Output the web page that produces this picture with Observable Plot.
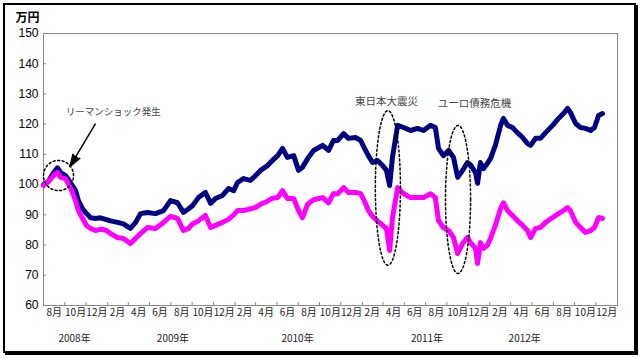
<!DOCTYPE html>
<html><head><meta charset="utf-8">
<script src="https://cdn.jsdelivr.net/npm/d3@7"></script>
<script src="https://cdn.jsdelivr.net/npm/@observablehq/plot@0.6"></script>
<style>
body{margin:0;background:#fff;}
#wrap{position:relative;width:642px;height:359px;overflow:hidden;}
#frame{position:absolute;left:3px;top:3px;width:633px;height:350px;box-sizing:border-box;border:2px solid #000;box-shadow:2px 2px 0 #000;pointer-events:none;z-index:2;}
#wrap svg{position:absolute;left:0;top:0;}
</style></head><body><div id="wrap"><div id="frame"></div></div>
<script>
const dates = ["2008-08-01","2008-08-15","2008-08-30","2008-09-10","2008-09-19","2008-10-03","2008-10-17","2008-11-01","2008-11-09","2008-11-21","2008-12-02","2008-12-14","2008-12-28","2009-01-11","2009-01-26","2009-02-09","2009-03-01","2009-03-18","2009-04-07","2009-04-22","2009-05-06","2009-05-26","2009-06-18","2009-07-11","2009-07-31","2009-08-20","2009-09-06","2009-09-21","2009-10-02","2009-10-19","2009-11-08","2009-11-23","2009-12-07","2009-12-27","2010-01-13","2010-01-28","2010-02-08","2010-02-25","2010-03-17","2010-04-01","2010-04-15","2010-05-05","2010-05-19","2010-06-03","2010-06-17","2010-07-01","2010-07-19","2010-08-02","2010-08-13","2010-08-28","2010-09-14","2010-10-10","2010-10-27","2010-11-10","2010-11-22","2010-12-09","2010-12-23","2011-01-12","2011-01-27","2011-02-07","2011-02-18","2011-03-02","2011-03-16","2011-03-31","2011-04-11","2011-04-20","2011-04-28","2011-05-13","2011-05-30","2011-06-19","2011-07-09","2011-07-26","2011-08-15","2011-08-29","2011-09-07","2011-09-21","2011-10-06","2011-10-20","2011-11-01","2011-11-15","2011-11-29","2011-12-08","2011-12-22","2011-12-28","2012-01-05","2012-01-14","2012-01-25","2012-02-03","2012-02-17","2012-03-03","2012-03-11","2012-03-23","2012-04-06","2012-04-20","2012-05-05","2012-05-19","2012-05-28","2012-06-11","2012-06-25","2012-07-10","2012-07-30","2012-08-16","2012-08-30","2012-09-11","2012-09-19","2012-10-04","2012-10-18","2012-11-01","2012-11-16","2012-11-27","2012-12-09","2012-12-20"];
const navy = [100,101,104,105.5,104,103,100.7,98,94.7,92,90.5,89,88.8,89,88.5,88,87.5,87,85.5,87.5,90.4,90.8,90.4,91.4,94.7,94,90.8,92,93,95.7,97.4,93.8,95.4,96.4,98.7,98,100.7,102,101.4,103,104.7,106.3,108,109.6,112,109,109.6,104.7,105.7,108.6,111.3,113,111.3,114.6,114.6,116.9,115.3,115.6,114.6,112,109.6,107.3,108,106.3,104.7,99.7,109,119.6,118.9,117.9,118.6,117.9,119.6,118.9,112,109.6,111.3,109,102.4,104.7,107.3,106.5,104,100.4,107.3,105.3,107,108.6,113,119.6,121.9,119.6,118.9,117.2,115.6,113.6,113,115.3,115.3,117.2,119.6,121.9,123.5,125.2,123.9,120.2,118.9,118.6,117.9,118.9,122.9,123.5];
const magenta = [99.7,101,103,104,102.4,102,99,94.7,91.4,88.8,86.5,85.5,84.8,85.2,85,83.8,82.5,82.2,80.5,82.2,83.8,85.8,85.5,87.5,89.5,88.8,84.8,85.5,87,88,89.8,85.8,86.5,87.5,88.5,90,91.4,91.4,92,92.5,93.5,94.5,95.5,95.7,98,95.4,95.4,91.4,89,93.5,95,95.7,94,97,97,99,97.4,97.4,97,94.5,91.5,89.5,88,86.5,85.5,78.2,89,99,97,95.7,95.7,95.7,97,95.7,88.1,85.8,84.8,82.5,77.2,80.5,82.5,80.8,78.9,73.9,80.8,78.9,79.9,82.2,86.5,92.1,94,91.4,89.8,88.1,86.5,84.8,82.5,85.5,85.8,87.5,89.1,90.4,91.4,92.4,91.4,87.5,85.8,84.2,84.8,85.8,89.1,88.8];
const yTicks = [60,70,80,90,100,110,120,130,140,150];
const monthLabels = ["8月","10月","12月","2月","4月","6月","8月","10月","12月","2月","4月","6月","8月","10月","12月","2月","4月","6月","8月","10月","12月","2月","4月","6月","8月","10月","12月"];
const yearLabels = ["2008年","2009年","2010年","2011年","2012年"];
const yearDates = ["2008-10-29","2009-08-07","2010-07-30","2011-08-05","2012-05-11"];
const annTexts = ["リーマンショック発生","東日本大震災","ユーロ債務危機"];
const annDates = ["2009-02-17","2011-04-11","2011-12-19"];
const annValues = [123.9,127.5,126.8];
const ellCenters = ["2008-09-13","2011-04-15","2011-11-02"];
const ellValues = [103,98.9,95.1];
const ellHalfDays = [43,36,36];
const ellHalfValues = [5,25.6,24.5];
const arrow = {x1:"2008-12-28", y1:120.2, x2:"2008-10-16", y2:106};

const parse = d3.utcParse("%Y-%m-%d");
const X = dates.map(parse);
const start = parse("2008-08-01"), end = parse("2013-02-01");
const catStarts = d3.utcMonth.range(start, end, 2);
const catMids = catStarts.map(d => d3.utcMonth.offset(d, 1));
const labelMap = new Map(catMids.map((d,i) => [+d, monthLabels[i]]));
const tickDates = catStarts.slice(1);

const ellipses = [];
ellCenters.forEach((c, k) => {
  const t0 = +parse(c);
  for (let i = 0; i <= 72; i++) {
    const t = i / 72 * 2 * Math.PI;
    ellipses.push({k, x: new Date(t0 + Math.cos(t) * ellHalfDays[k] * 864e5), y: ellValues[k] + Math.sin(t) * ellHalfValues[k]});
  }
});
const arr = {x1: parse(arrow.x1), y1: arrow.y1, x2: parse(arrow.x2), y2: arrow.y2};

const chart = Plot.plot({
  width: 642, height: 359,
  marginLeft: 43, marginRight: 25, marginTop: 33, marginBottom: 54,
  style: {fontFamily: "'Noto Sans CJK JP', sans-serif", background: "transparent", color: "#000"},
  x: {type: "utc", domain: [start, end]},
  y: {domain: [60, 150]},
  marks: [
    Plot.frame({stroke: "#888"}),
    Plot.tickY(yTicks, {y: d => d, stroke: "#888", insetRight: 571}),
    Plot.tickX(tickDates, {x: d => d, stroke: "#888", insetTop: 269}),
    Plot.axisY({ticks: yTicks, tickSize: 0, tickPadding: 5, label: null, fontSize: 12, fontFamily: "'Liberation Sans', Arial, sans-serif"}),
    Plot.axisX({ticks: catMids, tickSize: 0, tickPadding: 3, label: null, fontSize: 10, fill: "#222", tickFormat: d => labelMap.get(+d)}),
    Plot.text(yearLabels, {x: yearDates.map(parse), text: d => d, frameAnchor: "bottom", dy: 33, fontSize: 10, fill: "#222", lineAnchor: "middle"}),
    Plot.text(["万円"], {frameAnchor: "top-left", dx: -16, dy: -15, fontSize: 12, fontWeight: "bold", textAnchor: "middle", lineAnchor: "middle"}),
    Plot.line(navy, {x: X, y: navy, stroke: "#000080", strokeWidth: 5, strokeLinejoin: "round", strokeLinecap: "round"}),
    Plot.line(magenta, {x: X, y: magenta, stroke: "#ff00ff", strokeWidth: 5, strokeLinejoin: "round", strokeLinecap: "round"}),
    Plot.line(ellipses, {x: "x", y: "y", z: "k", stroke: "#000", strokeWidth: 1.5, strokeDasharray: "2,2.5"}),
    Plot.text(annTexts, {x: annDates.map(parse), y: annValues, text: d => d, fontSize: d => d.length > 8 ? 9.5 : 10.5, fill: "#444"}),
    Plot.link([arr], {x1: "x1", y1: "y1", x2: "x2", y2: "y2", stroke: "#000", strokeWidth: 1.5}),
    Plot.vector([arr], {x: "x2", y: "y2", shape: "spike", length: 12, r: 4, rotate: 212, anchor: "end", fill: "#000", stroke: "#000"})
  ]
});
document.getElementById("wrap").appendChild(chart);
</script></body></html>
